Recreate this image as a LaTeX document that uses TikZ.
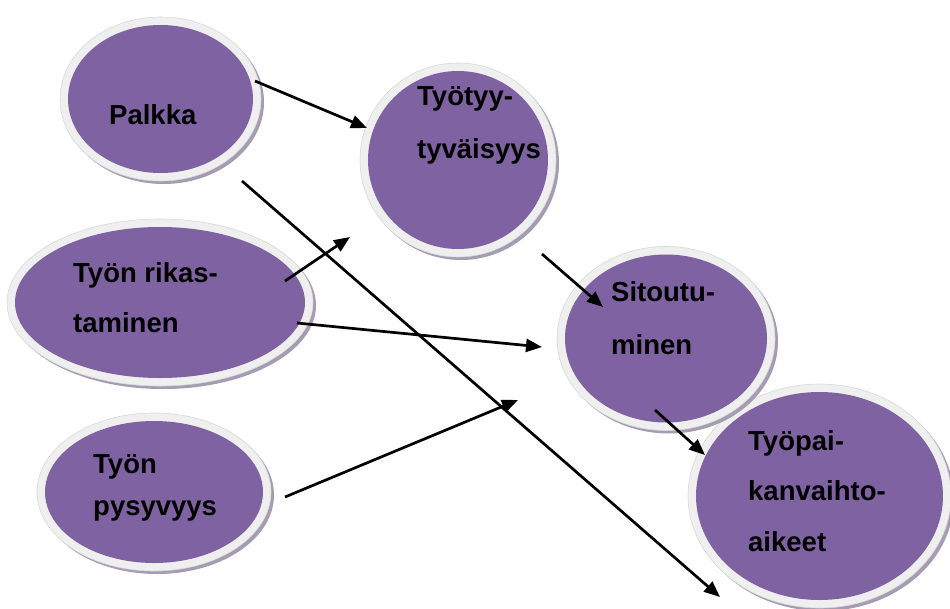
\documentclass[tikz,border=0pt]{standalone}
\usepackage{fontspec}
\setmainfont{Liberation Sans}
\usetikzlibrary{arrows.meta,shapes.geometric}
\definecolor{purp}{HTML}{7F62A1}
\definecolor{rimc}{HTML}{EFEFEF}
\definecolor{rimedge}{HTML}{D8D8D8}
\definecolor{shadc}{HTML}{A59CB2}
\tikzset{
 bubble/.style={ellipse, fill=purp, inner sep=0pt, draw=none},
 lbl/.style={anchor=base west, inner sep=0pt, font=\fontsize{27.5}{33}\selectfont\bfseries},
 arr/.style={line width=2.7pt, -{Triangle[length=16pt,width=13pt]}},
}
\newcommand{\mybubble}[5]{%
 \fill[shadc] (#2+3,#3+3) ellipse [x radius=#4pt+8pt, y radius=#5pt+8pt];
 \filldraw[fill=rimc, draw=rimedge, line width=0.6pt] (#2,#3) ellipse [x radius=#4pt+8pt, y radius=#5pt+8pt];
 \node[bubble, minimum width=2*#4pt, minimum height=2*#5pt] (#1) at (#2,#3) {};
}
\begin{document}
\begin{tikzpicture}[x=1pt,y=-1pt]
\useasboundingbox[fill=white] (0,0) rectangle (950,608);
% bubbles
\mybubble{P}{160.5}{99}{92.5}{74}
\mybubble{T}{458}{160}{90}{89}
\mybubble{R}{160}{302.5}{145}{75.5}
\mybubble{Y}{154}{492}{109}{71}
\mybubble{W}{819.5}{496}{123.5}{104}
\mybubble{S}{666}{338.5}{101}{84}
% arrow end points
\coordinate (a1s) at (255,81);  \coordinate (a1e) at (367,128);
\coordinate (a2s) at (242,181); \coordinate (a2e) at (720,597);
\coordinate (a3s) at (285,281); \coordinate (a3e) at (350,237);
\coordinate (a4s) at (297,323); \coordinate (a4e) at (542,347);
\coordinate (a5s) at (285,497); \coordinate (a5e) at (518,400);
\coordinate (a6s) at (542,254); \coordinate (a6e) at (603,307);
\coordinate (a7s) at (655,410); \coordinate (a7e) at (705,455);
\draw[arr] (a1s) -- (a1e);
\draw[arr] (a2s) -- (a2e);
\draw[arr] (a3s) -- (a3e);
\draw[arr] (a4s) -- (a4e);
\draw[arr] (a5s) -- (a5e);
\draw[arr] (a6s) -- (a6e);
\draw[arr] (a7s) -- (a7e);
% labels
\node[lbl] (tP1) at (109,124) {Palkka};
\node[lbl] (tT1) at (417,105) {Työtyy-};
\node[lbl] (tT2) at (417,158) {tyväisyys};
\node[lbl] (tR1) at (73,282) {Työn rikas-};
\node[lbl] (tR2) at (73,332) {taminen};
\node[lbl] (tS1) at (611,301) {Sitoutu-};
\node[lbl] (tS2) at (611,354) {minen};
\node[lbl] (tW1) at (748,450) {Työpai-};
\node[lbl] (tW2) at (748,500) {kanvaihto-};
\node[lbl] (tW3) at (748,551) {aikeet};
\node[lbl] (tY1) at (93,473) {Työn};
\node[lbl] (tY2) at (93,515) {pysyvyys};
\end{tikzpicture}
\end{document}
